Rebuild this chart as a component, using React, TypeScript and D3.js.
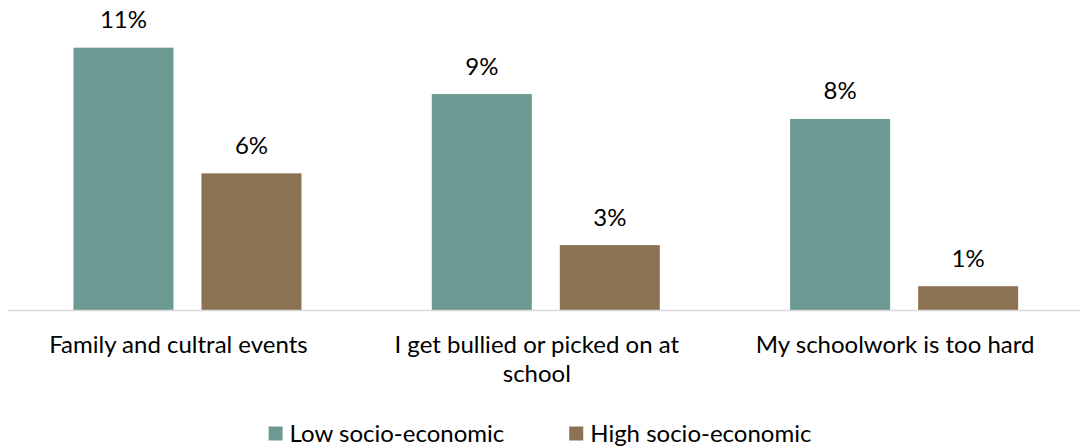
import React, { useEffect, useRef } from "react";
import * as d3 from "d3";

const categories = [
  "Family and cultral events",
  "I get bullied or picked on at school",
  "My schoolwork is too hard",
];
const seriesNames = ["Low socio-economic", "High socio-economic"];
const lowValues = [11.48, 9.45, 8.36];
const highValues = [5.98, 2.84, 1.04];
const seriesColors = ["#6C9A93", "#8A7252"];

const W = 1080;
const H = 448;
const FONT = "Lato, 'Open Sans', sans-serif";
const FS = 24;

export default function App() {
  const ref = useRef<SVGSVGElement>(null);

  useEffect(() => {
    const svg = d3.select(ref.current);
    svg.selectAll("*").remove();

    const x0 = d3.scaleBand<string>().domain(categories).range([8.3, 1083.3]).padding(0);
    const x1 = d3
      .scaleBand<string>()
      .domain(seriesNames)
      .range([0, x0.bandwidth()])
      .paddingInner(0.21875)
      .paddingOuter(0.509);
    const y = d3.scaleLinear().domain([0, 12]).range([310, 310 - 12 * 22.85]);

    const rows = categories.map((c, i) => ({
      cat: c,
      vals: [lowValues[i], highValues[i]],
    }));

    const g = svg.append("g");
    const groups = g
      .selectAll("g.grp")
      .data(rows)
      .join("g")
      .attr("class", "grp")
      .attr("transform", (d) => `translate(${x0(d.cat)},0)`);

    groups
      .selectAll("rect")
      .data((d) => d.vals.map((v, k) => ({ v, k })))
      .join("rect")
      .attr("x", (d) => x1(seriesNames[d.k])!)
      .attr("width", x1.bandwidth())
      .attr("y", (d) => y(d.v))
      .attr("height", (d) => y(0) - y(d.v))
      .attr("fill", (d) => seriesColors[d.k]);

    groups
      .selectAll("text.val")
      .data((d) => d.vals.map((v, k) => ({ v, k })))
      .join("text")
      .attr("class", "val")
      .attr("x", (d) => x1(seriesNames[d.k])! + x1.bandwidth() / 2)
      .attr("y", (d) => y(d.v) - 19.5)
      .attr("text-anchor", "middle")
      .attr("font-family", FONT)
      .attr("font-size", FS)
      .attr("fill", "#000")
      .text((d) => `${Math.round(d.v)}%`);

    // axis baseline
    g.append("line")
      .attr("x1", 8)
      .attr("x2", W)
      .attr("y1", y(0) + 0.5)
      .attr("y2", y(0) + 0.5)
      .attr("stroke", "#D9D9D9")
      .attr("stroke-width", 1.5);

    // category labels with wrapping
    const maxW = x0.bandwidth() - 10;
    categories.forEach((c) => {
      const cx = x0(c)! + x0.bandwidth() / 2 - 9;
      const t = g
        .append("text")
        .attr("x", cx)
        .attr("y", 353)
        .attr("text-anchor", "middle")
        .attr("font-family", FONT)
        .attr("font-size", FS)
        .attr("fill", "#000");
      const words = c.split(" ");
      let line: string[] = [];
      let lineNo = 0;
      let tspan = t.append("tspan").attr("x", cx).attr("y", 353);
      words.forEach((w) => {
        line.push(w);
        tspan.text(line.join(" "));
        if ((tspan.node() as SVGTSpanElement).getComputedTextLength() > maxW && line.length > 1) {
          line.pop();
          tspan.text(line.join(" "));
          line = [w];
          lineNo++;
          tspan = t
            .append("tspan")
            .attr("x", cx)
            .attr("y", 353 + lineNo * 28.5)
            .text(w);
        }
      });
    });

    // legend
    const lg = svg.append("g");
    const items = seriesNames.map((s, k) => {
      const it = lg.append("g");
      it.append("rect").attr("x", 0).attr("y", -15).attr("width", 14).attr("height", 14).attr("fill", seriesColors[k]);
      const tx = it
        .append("text")
        .attr("x", 21)
        .attr("y", 0)
        .attr("font-family", FONT)
        .attr("font-size", FS)
        .attr("fill", "#000")
        .text(s);
      const w = 21 + (tx.node() as SVGTextElement).getComputedTextLength();
      return { it, w };
    });
    const gap = 65;
    const total = items.reduce((a, b) => a + b.w, 0) + gap * (items.length - 1);
    let cx = W / 2 - total / 2;
    items.forEach(({ it, w }) => {
      it.attr("transform", `translate(${cx},441.5)`);
      cx += w + gap;
    });
  }, []);

  return (
    <svg
      ref={ref}
      width={W}
      height={H}
      style={{ position: "absolute", left: 0, top: 0, background: "#fff" }}
    />
  );
}
